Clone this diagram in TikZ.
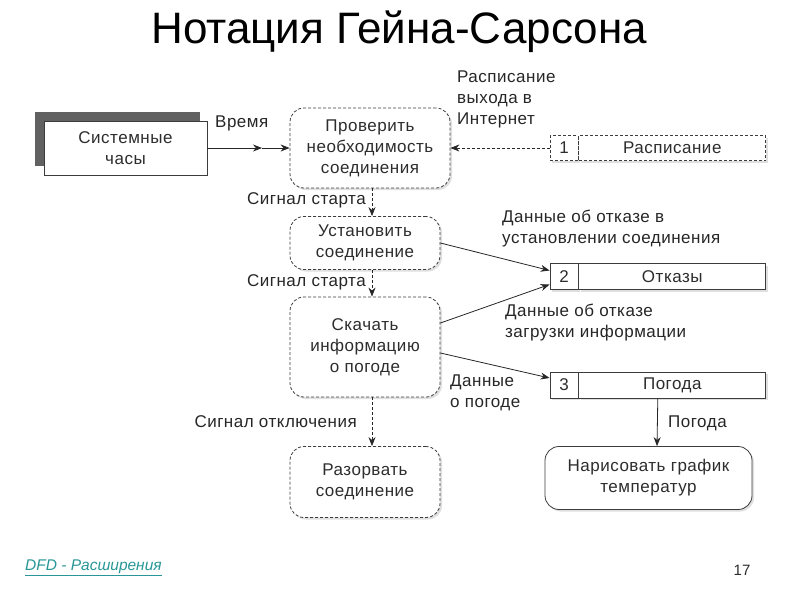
\documentclass[tikz,border=0pt]{standalone}
\usepackage{fontspec}
\setmainfont{Liberation Sans}
\newfontfamily\diafont{Liberation Sans}[LetterSpace=3]
\usetikzlibrary{positioning,shadows,arrows.meta}

\definecolor{linecol}{RGB}{60,60,60}
\definecolor{textcol}{RGB}{45,45,45}
\definecolor{linkcol}{RGB}{40,150,150}

\tikzset{
  base/.style={font=\diafont\fontsize{17}{21}\selectfont, text=textcol},
  proc/.style={base, draw=linecol, line width=0.8pt, rounded corners=14pt, fill=white, align=center,
    inner sep=0pt, drop shadow={shadow xshift=2pt, shadow yshift=-2pt, fill=gray!50}},
  dproc/.style={proc, dash pattern=on 3pt off 2pt},
  storenum/.style={base, draw=linecol, line width=0.8pt, fill=white, minimum width=28pt,
    minimum height=26pt, inner sep=0pt,
    drop shadow={shadow xshift=2pt, shadow yshift=-2pt, fill=gray!50}},
  storename/.style={storenum, minimum width=187pt},
  lbl/.style={base, text=black!85, align=left, inner sep=0pt},
  flow/.style={draw=black!85, line width=0.8pt, -{Stealth[length=9pt, width=7pt]}},
  dflow/.style={flow, dash pattern=on 3pt off 2pt}
}

\begin{document}
\begin{tikzpicture}[x=1pt, y=-1pt]
\useasboundingbox (0,0) rectangle (800,600);

% Title
\node[font=\fontsize{44}{48}\selectfont] (title) at (399,32) {Нотация Гейна-Сарсона};

% External entity
\fill[black!62] (35,112) rectangle (200,166);
\node[base, draw=linecol, line width=0.8pt, fill=white, minimum width=163pt, minimum height=54pt,
  align=center, inner sep=0pt] (clock) at (125.5,148) {Системные\\часы};

% Processes
\node[dproc, minimum width=160pt, minimum height=80pt] (p1) at (370,148)
  {Проверить\\необходимость\\соединения};
\node[dproc, minimum width=150pt, minimum height=53pt] (p2) at (365,243)
  {Установить\\соединение};
\node[dproc, minimum width=150pt, minimum height=100pt] (p3) at (365,347)
  {Скачать\\информацию\\о погоде};
\node[dproc, minimum width=150pt, minimum height=71pt] (p4) at (365,482)
  {Разорвать\\соединение};
\node[proc, minimum width=207pt, minimum height=63pt] (p5) at (648.5,478)
  {Нарисовать график\\температур};

% Data stores
\node[storenum, dash pattern=on 3pt off 2pt, minimum height=25pt] (s1n) at (564,148) {1};
\node[storename, dash pattern=on 3pt off 2pt, minimum height=25pt, right=0pt of s1n] (s1) {Расписание};
\node[storenum] (s2n) at (564,276.5) {2};
\node[storename, right=0pt of s2n] (s2) {Отказы};
\node[storenum] (s3n) at (564,385) {3};
\node[storename, right=0pt of s3n] (s3) {Погода};

% Flows
\coordinate (tmid) at (262,148);
\draw[flow] (clock.east) -- (tmid);
\draw[flow] (tmid) -- (p1.west);
\draw[dflow] (s1n.west) -- (p1.east);
\draw[dflow] ([xshift=2pt]p1.south) -- ([xshift=7pt]p2.north);
\draw[dflow] ([xshift=7pt]p2.south) -- ([xshift=7pt]p3.north);
\draw[dflow] ([xshift=7pt]p3.south) -- ([xshift=7pt]p4.north);
\draw[flow] (p2.east) -- ([yshift=6pt]s2n.west);
\draw[flow] ([yshift=24pt]p3.east) -- ([yshift=-8pt]s2n.west);
\draw[flow] ([yshift=-6pt]p3.east) -- ([yshift=7pt]s3n.west);
\draw[flow] ([xshift=-14.5pt]s3.south) -- ([xshift=8.5pt]p5.north);

% Flow labels
\node[lbl, anchor=west] (l1) at (215,123) {Время};
\node[lbl, anchor=west] (l2) at (457,99) {Расписание\\выхода в\\Интернет};
\node[lbl, anchor=east] (l3) at (366,200) {Сигнал старта};
\node[lbl, anchor=east] (l4) at (366,282) {Сигнал старта};
\node[lbl, anchor=west] (l5) at (502,229) {Данные об отказе в\\установлении соединения};
\node[lbl, anchor=west] (l6) at (505,323) {Данные об отказе\\загрузки информации};
\node[lbl, anchor=west] (l7) at (450,393) {Данные\\о погоде};
\node[lbl, anchor=east] (l8) at (357,422) {Сигнал отключения};
\node[lbl, anchor=west] (l9) at (668,423) {Погода};

% Footer
\node[anchor=west, inner sep=0pt, text=linkcol, font=\fontsize{15.5}{18}\selectfont\itshape]
  (link) at (25,568) {\underline{DFD - Расширения}};
\node[inner sep=0pt, text=textcol, font=\fontsize{15}{18}\selectfont] (page) at (742,570) {17};
\end{tikzpicture}
\end{document}
